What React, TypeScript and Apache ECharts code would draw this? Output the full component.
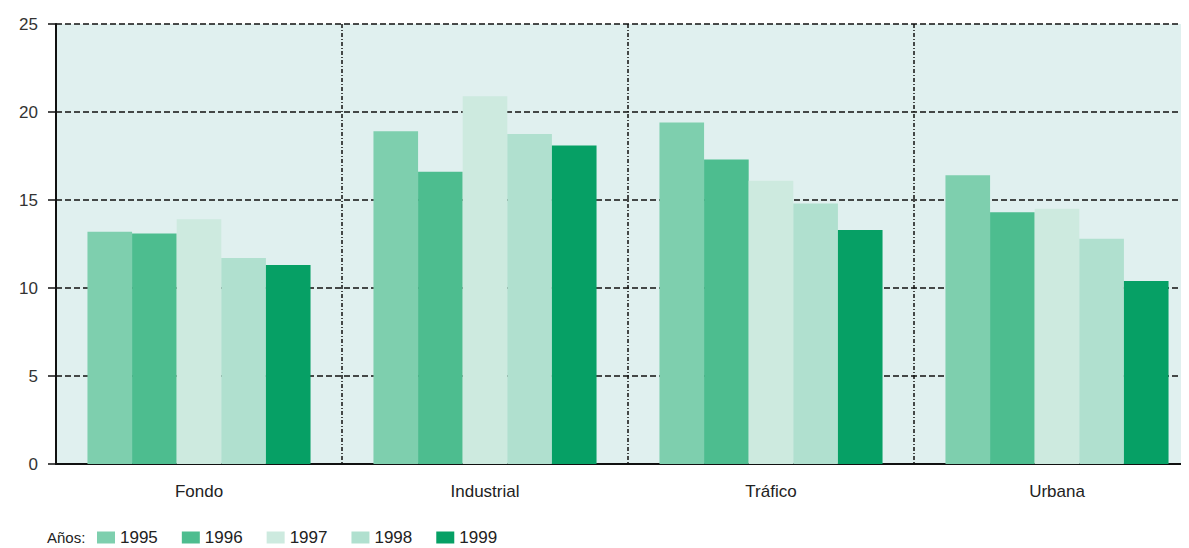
import React, { useEffect, useRef } from "react";
import * as echarts from "echarts";

const categories = ["Fondo", "Industrial", "Tráfico", "Urbana"];
const years = ["1995", "1996", "1997", "1998", "1999"];
const v1995 = [13.2, 18.9, 19.4, 16.4];
const v1996 = [13.1, 16.6, 17.3, 14.3];
const v1997 = [13.9, 20.9, 16.1, 14.5];
const v1998 = [11.7, 18.75, 14.8, 12.8];
const v1999 = [11.3, 18.1, 13.3, 10.4];
const yTicks = [0, 5, 10, 15, 20, 25];
const colors = ["#7ecfae", "#4dbd8f", "#cdeadf", "#b0e0cf", "#06a065"];

export default function App() {
  const ref = useRef<HTMLDivElement>(null);
  useEffect(() => {
    if (!ref.current) return;
    const chart = echarts.init(ref.current, null, { renderer: "svg" });
    const values = [v1995, v1996, v1997, v1998, v1999];
    const font = "'Liberation Sans', Arial, sans-serif";
    chart.setOption({
      animation: false,
      textStyle: { fontFamily: font },
      grid: {
        left: 48,
        right: 0,
        top: 16,
        bottom: 84,
        show: true,
        backgroundColor: "#e0f0ef",
        borderWidth: 0,
      },
      legend: {
        left: 89,
        top: 521,
        padding: 0,
        itemWidth: 18,
        itemHeight: 12,
        itemGap: 24,
        icon: "rect",
        data: years,
        textStyle: { fontSize: 17, lineHeight: 15, color: "#222", fontFamily: font },
      },
      graphic: [
        {
          type: "text",
          left: 39,
          top: 522,
          style: { text: "Años:", fontSize: 15, lineHeight: 15, fill: "#222", fontFamily: font },
        },
      ],
      xAxis: {
        type: "category",
        data: categories,
        boundaryGap: true,
        axisLine: { show: true, lineStyle: { color: "#111", width: 2 } },
        axisTick: { show: false },
        axisLabel: { color: "#222", fontSize: 17, margin: 19 },
        splitLine: {
          show: true,
          lineStyle: { color: "#111", width: 1.5, type: [4, 2, 1, 2] },
        },
      },
      yAxis: {
        type: "value",
        min: yTicks[0],
        max: yTicks[yTicks.length - 1],
        interval: 5,
        axisLine: { show: true, lineStyle: { color: "#111", width: 2 } },
        axisTick: { show: true, length: 8, lineStyle: { color: "#111", width: 1.5 } },
        axisLabel: { color: "#333", fontSize: 17, margin: 18 },
        splitLine: {
          show: true,
          lineStyle: { color: "#111", width: 1.5, type: [6, 3] },
        },
      },
      series: years.map((y, i) => ({
        name: y,
        type: "bar",
        data: values[i],
        barGap: "0%",
        barCategoryGap: "22%",
        itemStyle: { color: colors[i] },
      })),
    });
    return () => chart.dispose();
  }, []);
  return (
    <div style={{ width: 1181, height: 540, overflow: "hidden" }}>
      <div ref={ref} style={{ width: 1192, height: 540 }} />
    </div>
  );
}
